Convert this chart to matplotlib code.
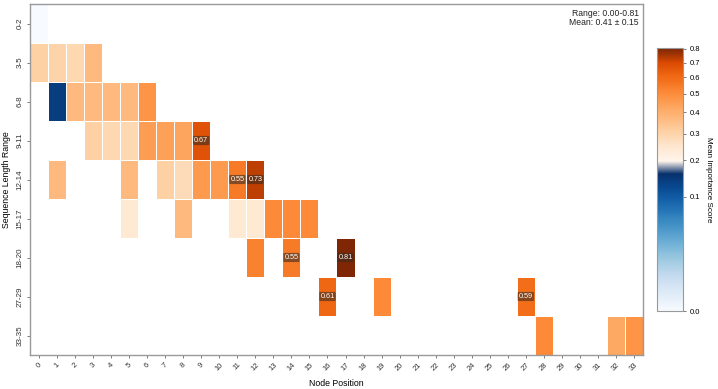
import numpy as np
import matplotlib
matplotlib.use("Agg")
import matplotlib.pyplot as plt
from matplotlib.colors import LinearSegmentedColormap, PowerNorm

plt.rcParams['font.family'] = ['Liberation Sans', 'DejaVu Sans']

# sequence length bins (rows) and node positions (columns)
row_labels = ['0-2', '3-5', '6-8', '9-11', '12-14', '15-17', '18-20', '27-29', '33-35']
n_nodes = 34

# non-empty cells: row index, node position, mean importance
cell_rows = [0,
             1, 1, 1, 1,
             2, 2, 2, 2, 2, 2,
             3, 3, 3, 3, 3, 3, 3,
             4, 4, 4, 4, 4, 4, 4, 4,
             5, 5, 5, 5, 5, 5, 5,
             6, 6, 6,
             7, 7, 7,
             8, 8, 8]
cell_cols = [0,
             0, 1, 2, 3,
             1, 2, 3, 4, 5, 6,
             3, 4, 5, 6, 7, 8, 9,
             1, 5, 7, 8, 9, 10, 11, 12,
             5, 8, 11, 12, 13, 14, 15,
             12, 14, 17,
             16, 19, 27,
             28, 32, 33]
cell_vals = [0.00,
             0.31, 0.30, 0.29, 0.37,
             0.14, 0.37, 0.37, 0.37, 0.37, 0.48,
             0.31, 0.29, 0.29, 0.45, 0.44, 0.43, 0.67,
             0.37, 0.37, 0.31, 0.28, 0.46, 0.46, 0.55, 0.73,
             0.24, 0.37, 0.24, 0.24, 0.51, 0.51, 0.51,
             0.53, 0.55, 0.81,
             0.61, 0.51, 0.59,
             0.51, 0.42, 0.48]

annot_min = 0.55

grid = np.full((len(row_labels), n_nodes), np.nan)
for r, c, v in zip(cell_rows, cell_cols, cell_vals):
    grid[r, c] = v
data = np.ma.masked_invalid(grid)

# blue -> white -> orange colormap (orange half stretched a little)
blues = plt.cm.Blues(np.linspace(0, 1, 12))
blue_pos = np.linspace(0, 0.52, 12)
orange_pos = np.linspace(0.57, 1.0, 24)
orange_t = np.interp(orange_pos, [0.57, 0.673, 0.757, 0.827, 0.89, 0.947, 1.0],
                     [0.0, 0.23, 0.375, 0.5, 0.625, 0.75, 1.0])
oranges = plt.cm.Oranges(orange_t)
nodes = list(zip(blue_pos, blues)) + list(zip(orange_pos, oranges))
cmap = LinearSegmentedColormap.from_list('blue_orange', nodes, N=256)

vals = np.array(cell_vals)
norm = PowerNorm(gamma=0.4, vmin=vals.min(), vmax=vals.max())

fig = plt.figure(figsize=(7.18, 3.89), dpi=100)
ax = fig.add_axes([0.0418, 0.0874, 0.8537, 0.9023])
cax = fig.add_axes([0.9146, 0.2005, 0.037, 0.677])

x_edges = np.arange(n_nodes + 1) - 0.5
y_edges = np.arange(len(row_labels) + 1) - 0.5
mesh = ax.pcolormesh(x_edges, y_edges, data, cmap=cmap, norm=norm,
                     edgecolors='white', linewidth=0.6)
ax.set_xlim(-0.5, n_nodes - 0.5)
ax.set_ylim(len(row_labels) - 0.5, -0.5)

for r, c, v in zip(cell_rows, cell_cols, cell_vals):
    if v >= annot_min:
        ax.text(c, r, f'{v:.2f}', ha='center', va='center', fontsize=5.2, color='white',
                bbox=dict(boxstyle='round,pad=0.15', facecolor='#3a2a20', alpha=0.6, edgecolor='none'))

ax.set_xticks(np.arange(n_nodes))
ax.set_xticklabels([str(i) for i in range(n_nodes)], rotation=45, fontsize=5.5, color='#333333')
ax.set_yticks(np.arange(len(row_labels)))
ax.set_yticklabels(row_labels, rotation=90, va='center', fontsize=5.8, color='#333333')
ax.tick_params(length=2.5, width=0.6, color='#666666', pad=2)
ax.set_xlabel('Node Position', fontsize=6.3, labelpad=5)
ax.set_ylabel('Sequence Length Range', fontsize=6.3, labelpad=4)
for s in ax.spines.values():
    s.set_color('#999999')
    s.set_linewidth(1.0)

ax.text(0.993, 0.985,
        f'Range: {vals.min():.2f}-{vals.max():.2f}\nMean: {vals.mean():.2f} \u00b1 {vals.std():.2f}',
        transform=ax.transAxes, ha='right', va='top', fontsize=6.2, color='#222222', linespacing=1.0)

cb = fig.colorbar(mesh, cax=cax)
cb.set_ticks([0.0, 0.1, 0.2, 0.3, 0.4, 0.5, 0.6, 0.7, 0.8])
cb.ax.tick_params(labelsize=5.5, length=2.5, width=0.6, color='#666666', pad=2)
cb.outline.set_edgecolor('#999999')
cb.set_label('Mean Importance Score', rotation=270, fontsize=5.8, labelpad=9)

fig.savefig('out.png', dpi=100)
